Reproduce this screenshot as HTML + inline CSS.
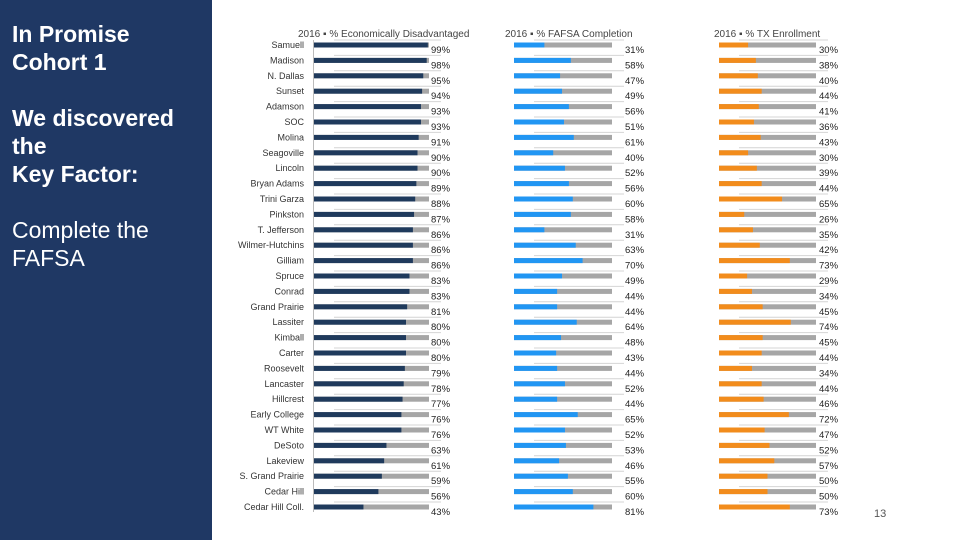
<!DOCTYPE html>
<html><head><meta charset="utf-8"><style>
body{margin:0;width:960px;height:540px;background:#fff;overflow:hidden;font-family:"Liberation Sans",sans-serif;position:relative}
#left{position:absolute;left:0;top:0;width:212px;height:540px;background:#1f3864;color:#fff}
#left div{position:absolute;left:12px;font-size:23px;line-height:28px}
</style></head><body>
<div id="left">
<div style="top:20px;font-weight:bold">In Promise<br>Cohort 1</div>
<div style="top:104px;font-weight:bold">We discovered<br>the<br>Key Factor:</div>
<div style="top:216px">Complete the<br>FAFSA</div>
</div>
<svg id="chart" width="960" height="540" style="position:absolute;left:0;top:0"></svg>
<div style="position:absolute;left:874px;top:508px;font-size:11px;color:#555">13</div>
<script>
const names=["Samuell","Madison","N. Dallas","Sunset","Adamson","SOC","Molina","Seagoville","Lincoln","Bryan Adams","Trini Garza","Pinkston","T. Jefferson","Wilmer-Hutchins","Gilliam","Spruce","Conrad","Grand Prairie","Lassiter","Kimball","Carter","Roosevelt","Lancaster","Hillcrest","Early College","WT White","DeSoto","Lakeview","S. Grand Prairie","Cedar Hill","Cedar Hill Coll."];
const econ=[99,98,95,94,93,93,91,90,90,89,88,87,86,86,86,83,83,81,80,80,80,79,78,77,76,76,63,61,59,56,43];
const fafsa=[31,58,47,49,56,51,61,40,52,56,60,58,31,63,70,49,44,44,64,48,43,44,52,44,65,52,53,46,55,60,81];
const tx=[30,38,40,44,41,36,43,30,39,44,65,26,35,42,73,29,34,45,74,45,44,34,44,46,72,47,52,57,50,50,73];
const svg=document.getElementById('chart');const NS='http://www.w3.org/2000/svg';
function mk(t,a,txt){const e=document.createElementNS(NS,t);for(const k in a)e.setAttribute(k,a[k]);if(txt!=null)e.textContent=txt;svg.appendChild(e);return e;}
const rowY=i=>45+i*15.4;
const panels=[{x0:314,w:115,vals:econ,col:'#1f3a5c',title:'2016 ▪ % Economically Disadvantaged',tx:298,name:'econ'},
{x0:514,w:98,vals:fafsa,col:'#2196f3',title:'2016 ▪ % FAFSA Completion',tx:505,name:'fafsa'},
{x0:719,w:97,vals:tx,col:'#f28c1c',title:'2016 ▪ % TX Enrollment',tx:714,name:'tx'}];
panels.forEach(p=>{
 const t=mk('text',{x:p.tx,y:37,'font-size':10,fill:'#444'},p.title);
 
 
 p.vals.forEach((v,i)=>{
  const y=rowY(i);
  const l=mk('line',{x1:p.x0+20,x2:p.x0+p.w+12,y1:y-5,y2:y-5,stroke:'#d4d4d4','stroke-width':1});
  
  
  const bg=mk('rect',{x:p.x0,y:y-2.5,width:p.w,height:5,fill:'#a6a6a6'});
  
  
  const b=mk('rect',{x:p.x0,y:y-2.5,width:p.w*v/100,height:5,fill:p.col});
  
  
  const lx=p.name==='econ'?431:(p.name==='fafsa'?625:819);
  const lt=mk('text',{x:lx,y:y+8,'font-size':9.5,fill:'#222'},v+'%');
  
  
 });
});
mk('line',{x1:313.5,x2:313.5,y1:40,y2:512,stroke:'#bbb','stroke-width':1});
names.forEach((n,i)=>{
 const t=mk('text',{x:304,y:rowY(i)+3,'font-size':9,fill:'#333','text-anchor':'end'},n);
 
 
});
</script>
</body></html>
